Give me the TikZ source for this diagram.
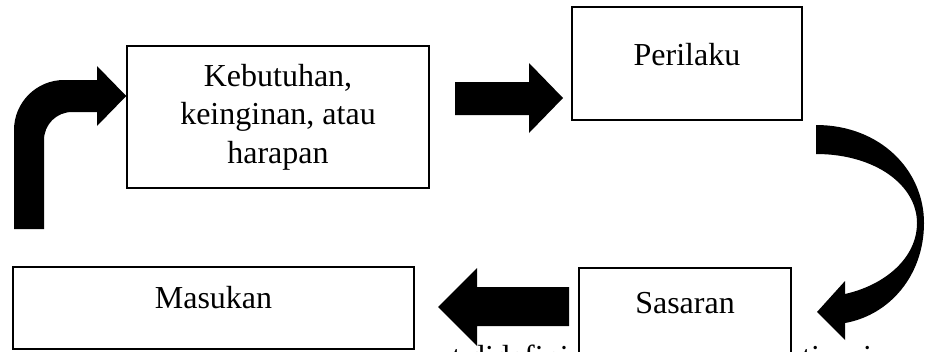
\documentclass[tikz,border=0pt]{standalone}
\usepackage{fontspec}
\setmainfont{Liberation Serif}
\begin{document}
\begin{tikzpicture}[x=1pt,y=-1pt,
  box/.style={draw, line width=1.5pt, fill=white, inner sep=0pt},
  lbl/.style={inner sep=0pt, anchor=base, font=\fontsize{32}{38.5}\selectfont},
  blk/.style={fill=black}]
\useasboundingbox (0,0) rectangle (926,351);
\fill[white] (0,0) rectangle (926,351);
\clip (0,0) rectangle (926,351);
% partly visible body text at the bottom edge
\node[lbl, anchor=base west] (fragA) at (452,367.5) {t didefini};
\node[lbl, anchor=base west] (fragB) at (802,367.5) {ti};
\node[lbl, anchor=base west] (fragC) at (863,367.5) {i};
% boxes
\node[box, minimum width=302, minimum height=142, align=center,
      font=\fontsize{32}{38.5}\selectfont] (keb) at (278,117)
      {Kebutuhan,\\keinginan, atau\\harapan};
\node[box, minimum width=230, minimum height=113] (per) at (687,63.5) {};
\node[box, minimum width=401, minimum height=82] (mas) at (213.5,308) {};
\node[box, minimum width=212, minimum height=102] (sas) at (685,319) {};
\node[lbl] (perT) at (687,65) {Perilaku};
\node[lbl] (masT) at (213.5,308) {Masukan};
\node[lbl] (sasT) at (685,313) {Sasaran};
% bent arrow into keb
\fill[blk] (14,229) -- (14,130) .. controls (14,102.4) and (36.4,80) .. (64,80)
  -- (97,80) -- (97,66) -- (keb.west |- 0,96) -- (97,126) -- (97,112) -- (72,112)
  .. controls (56.5,112) and (44,124.5) .. (44,140) -- (44,229) -- cycle;
% straight arrow keb -> per
\fill[blk] (455,82) -- (529,82) -- (529,63) -- (563,98) -- (529,133) -- (529,115)
  -- (455,115) -- cycle;
% curved arrow per -> sas
\fill[blk] (816,125) .. controls (880,125) and (924,170) .. (924,223)
  .. controls (924,275) and (890,315) .. (845,323) -- (845,340) -- (817,312)
  -- (845,281) -- (845,294) .. controls (885,285) and (917,258) .. (917,223)
  .. controls (917,185) and (875,154) .. (816,154) -- cycle;
% straight arrow sas -> mas
\fill[blk] (569,287) -- (477,287) -- (477,268) -- (438,307) -- (477,346)
  -- (477,326) -- (569,326) -- cycle;
\end{tikzpicture}
\end{document}
